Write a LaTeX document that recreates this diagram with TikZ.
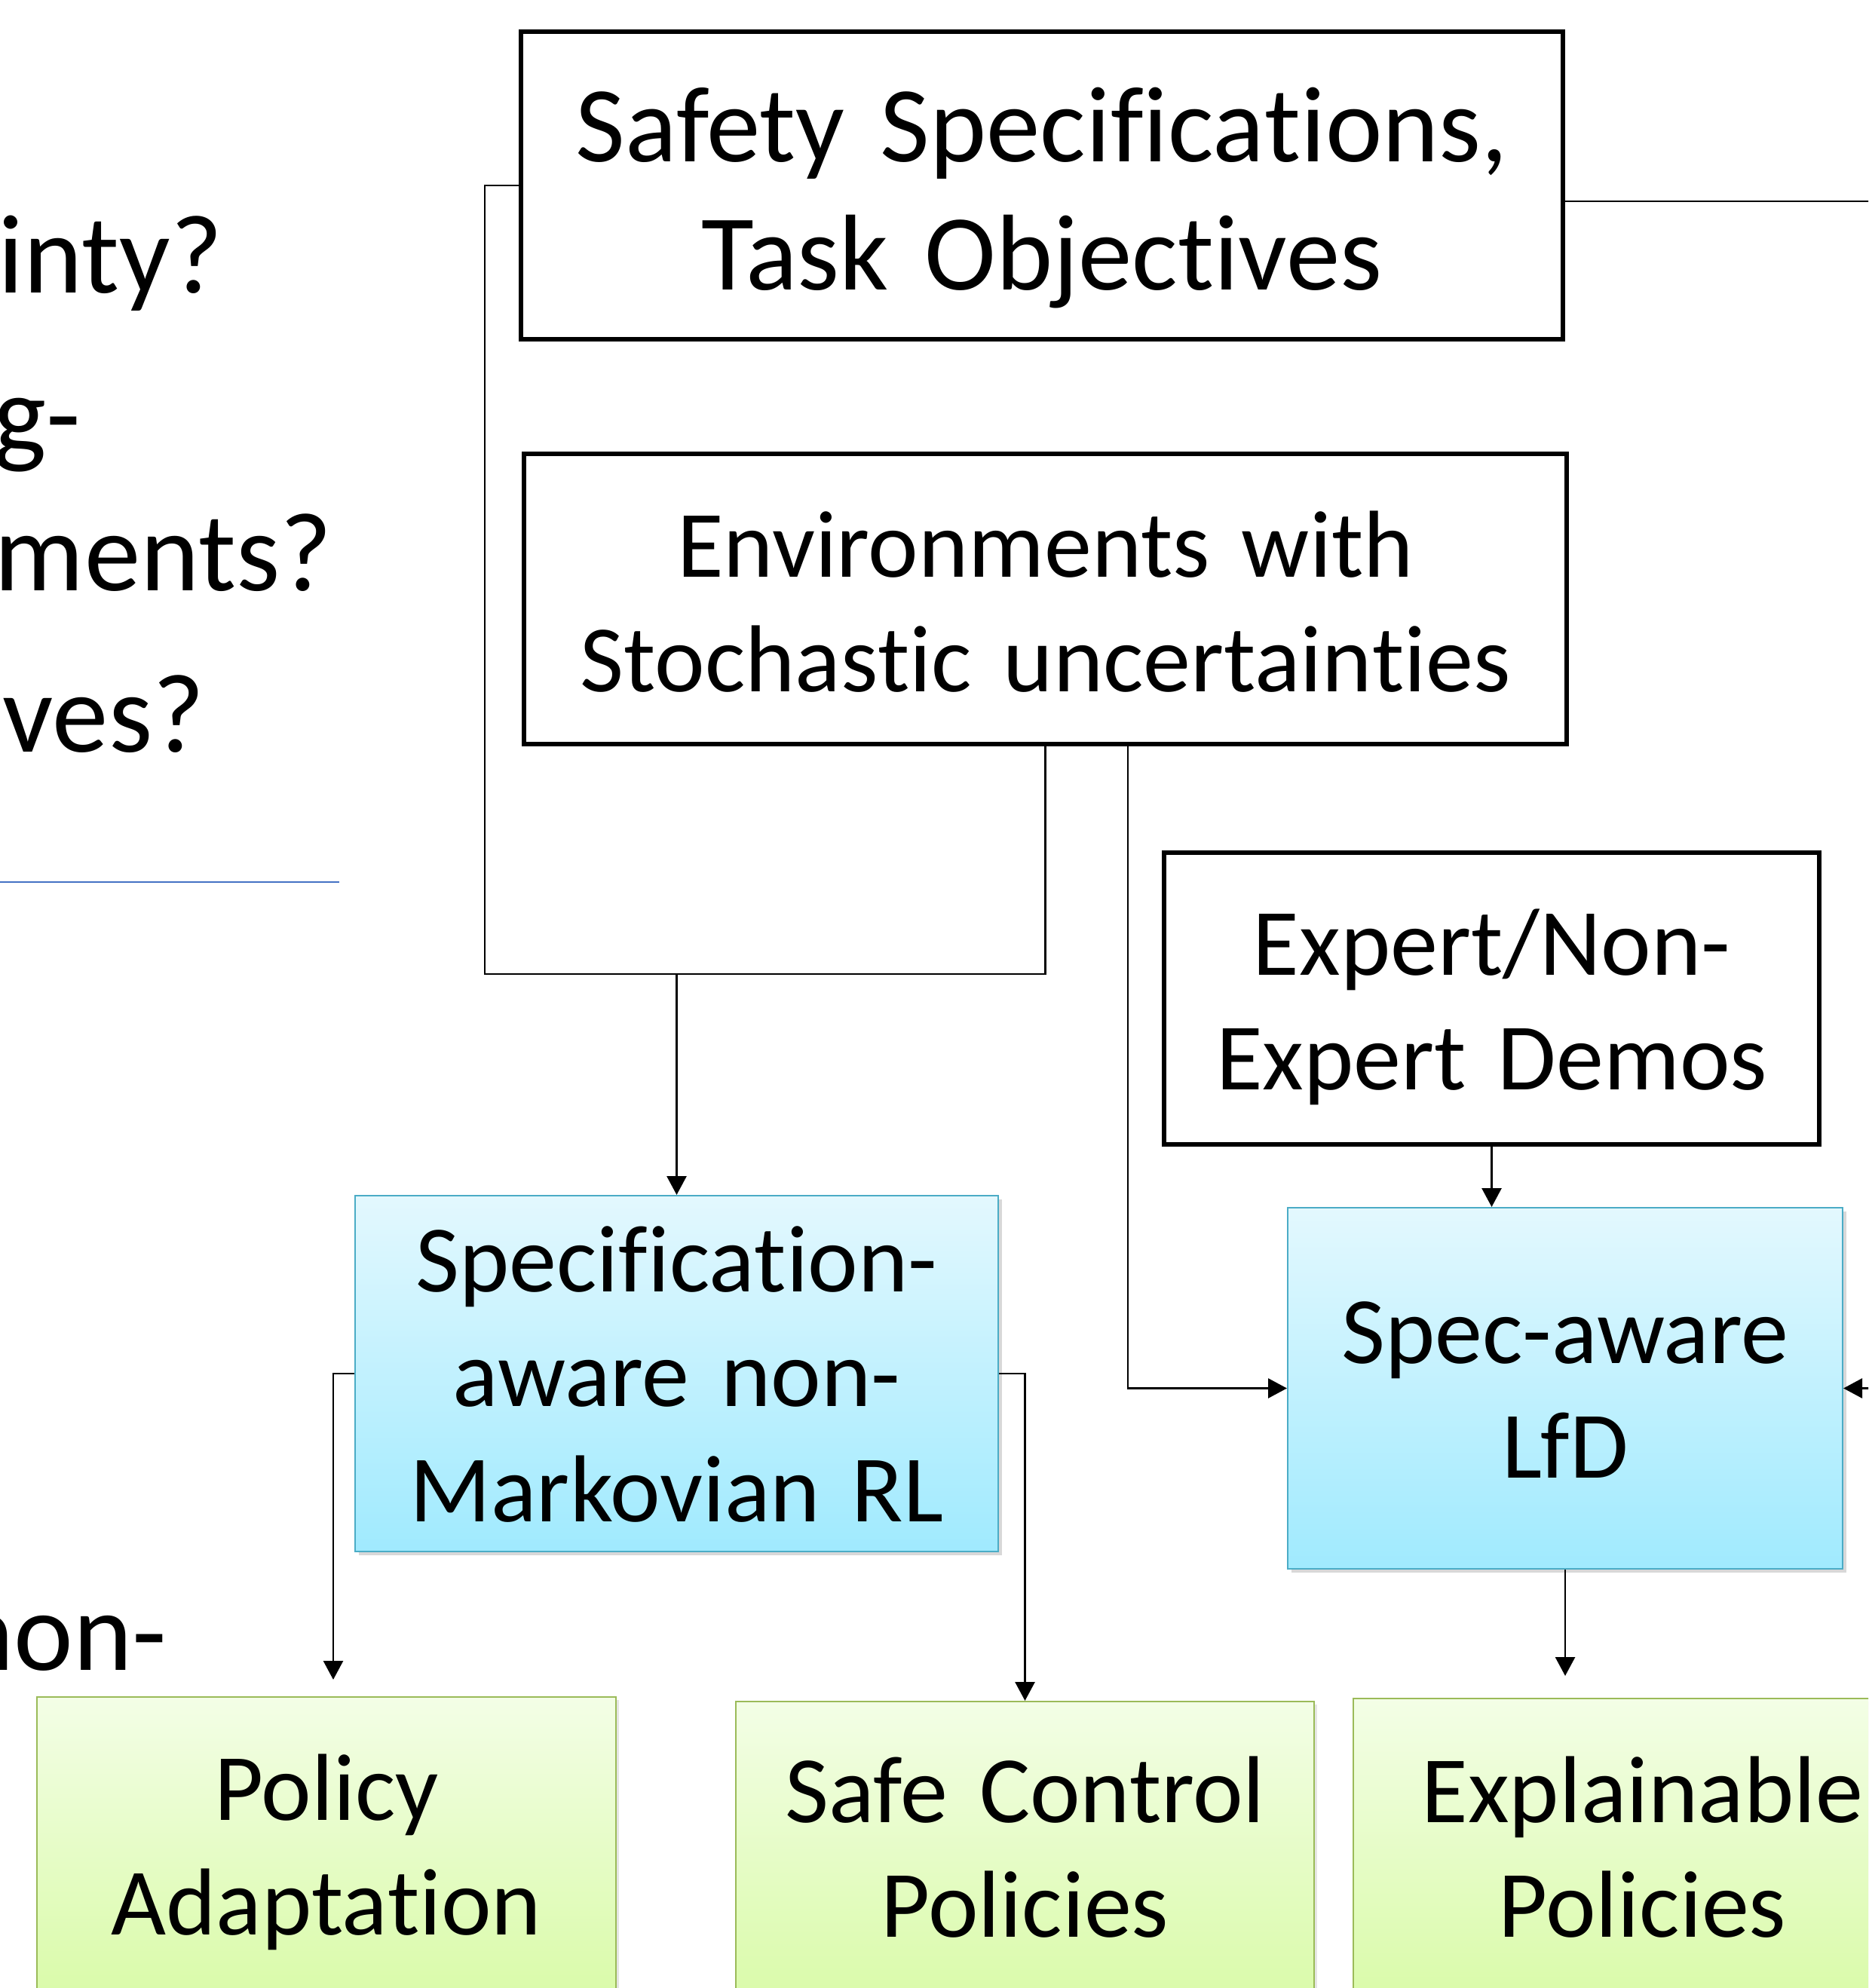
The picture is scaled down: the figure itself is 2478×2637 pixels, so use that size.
\documentclass[tikz,border=0pt]{standalone}
\usepackage{fontspec}
\setmainfont{Carlito}[Ligatures={NoCommon,NoContextual,NoRare}]
\usetikzlibrary{arrows.meta,shadows}
\definecolor{bluetop}{HTML}{E3F8FE}
\definecolor{bluebot}{HTML}{A0EAFE}
\definecolor{blueline}{HTML}{4BACC6}
\definecolor{greentop}{HTML}{F3FEE6}
\definecolor{greenbot}{HTML}{D5FA9E}
\definecolor{greenline}{HTML}{9BBB59}
\definecolor{rulecol}{HTML}{4472C4}
\newcommand\fA{\fontsize{40.7pt}{48.1pt}\selectfont}
\newcommand\fB{\fontsize{35.9pt}{43.5pt}\selectfont}
\newcommand\fC{\fontsize{42.4pt}{51.8pt}\selectfont}
\newcommand\nolig{\kern0pt }
\tikzset{
  plainbox/.style={draw=black, line width=1.5pt, fill=white, rectangle, inner sep=0pt,
    align=center, text height=0pt},
  bluebox/.style={draw=blueline, line width=0.6pt, rectangle, inner sep=0pt,
    top color=bluetop, bottom color=bluebot, align=center, text height=0pt,
    drop shadow={shadow xshift=0.45mm, shadow yshift=-0.45mm, opacity=0.3, fill=gray}},
  greenbox/.style={draw=greenline, line width=0.6pt, rectangle, inner sep=0pt,
    top color=greentop, bottom color=greenbot, align=center, text height=0pt,
    drop shadow={shadow xshift=0.35mm, shadow yshift=-0.35mm, opacity=0.2, fill=gray}},
  conn/.style={draw=black, line width=0.8pt},
  arr/.style={conn, -{Triangle[width=7.4pt,length=7.1pt]}},
  sidetext/.style={anchor=base east, inner sep=0pt, font=\fC}
}
\begin{document}
\begin{tikzpicture}[x=0.1mm, y=-0.1mm]
\useasboundingbox (0,0) rectangle (2478,2637);
\clip (0,0) rectangle (2478,2637);
\fill[white] (0,0) rectangle (2478,2637);

% left cut-off text
\node[sidetext] (t1) at (296,389) {inty?};
\node[sidetext] (t2) at (108,601) {g-};
\node[sidetext] (t3) at (441,783) {ments?};
\node[sidetext] (t4) at (272,997) {ves?};
\node[sidetext] (t5) at (222,2215) {non-};
\draw[rulecol, line width=0.7pt] (0,1170) -- (450,1170);

% boxes
\node[plainbox, minimum width=138.2mm, minimum height=40.8mm, text width=136mm,
  text depth=6.2mm, font=\fA] (top) at (1382,246)
  {Safety Specif\nolig ica\nolig t\nolig ions,\\Task Objec\nolig t\nolig ives};
\node[plainbox, minimum width=138.3mm, minimum height=38.5mm, text width=136mm,
  text depth=5.9mm, font=\fB] (env) at (1386.5,794.5)
  {Environments with\\Stochas\nolig t\nolig ic uncertain\nolig t\nolig ies};
\node[plainbox, minimum width=86.9mm, minimum height=38.7mm, text width=84mm,
  text depth=6.3mm, font=\fB] (expert) at (1978.5,1324.5) {Expert/Non-\\Expert Demos};
\node[bluebox, minimum width=85.3mm, minimum height=47.2mm, text width=83mm,
  text depth=21.8mm, font=\fB] (specrl) at (897.5,1822)
  {Specif\nolig ica\nolig t\nolig ion-\\aware non-\\Markovian RL};
\node[bluebox, minimum width=73.6mm, minimum height=47.9mm, text width=71mm,
  text depth=6.7mm, font=\fB] (lfd) at (2076,1841.5) {Spec-aware\\LfD};
\node[greenbox, minimum width=76.8mm, minimum height=47mm, text width=74mm,
  text depth=14.4mm, font=\fB] (policy) at (433,2486) {Policy\\Adapta\nolig t\nolig ion};
\node[greenbox, minimum width=76.7mm, minimum height=47mm, text width=74mm,
  text depth=15mm, font=\fB] (safe) at (1359.5,2492) {Safe Control\\Policies};
\node[greenbox, minimum width=76.7mm, minimum height=47mm, text width=74mm,
  text depth=14.2mm, font=\fB] (expl) at (2178.5,2488) {Explainable\\Policies};

% helper coordinates
\coordinate (jl) at (643,1292);
\coordinate (xr) at (1496,0);
\coordinate (xl) at (442,0);
\coordinate (rin) at (2490,1839);
\coordinate (rout) at (2490,267);

% connectors
\draw[conn] (top.west) -| (jl) -- (env.south |- jl) -- (env.south);
\draw[arr] (specrl.north |- jl) -- (specrl.north);
\draw[arr] (env.south -| xr) |- (lfd.west);
\draw[arr] (expert.south) -- (expert.south |- lfd.north);
\draw[arr] (lfd.east -| rin) -- (lfd.east);
\draw[conn] (top.east |- rout) -- (rout);
\draw[arr, shorten >=2.2mm] (specrl.west) -| (policy.north -| xl);
\draw[arr] (specrl.east) -| (safe.north);
\draw[arr, shorten >=2.9mm] (lfd.south) -- (lfd.south |- expl.north);
\end{tikzpicture}
\end{document}
